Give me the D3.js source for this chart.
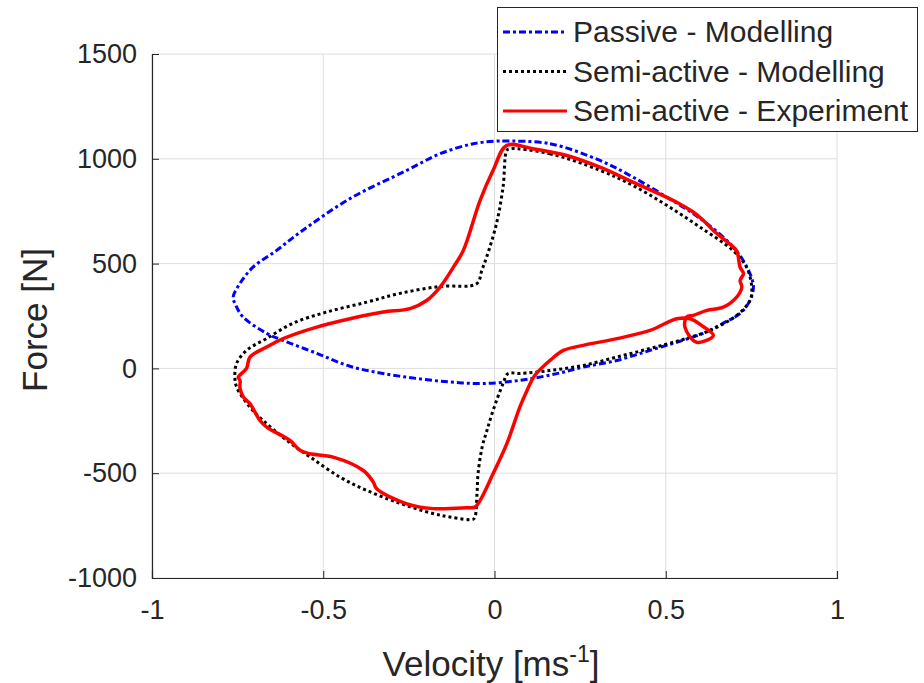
<!DOCTYPE html>
<html>
<head>
<meta charset="utf-8">
<script src="https://cdn.jsdelivr.net/npm/d3@7"></script>
<style>
  body { margin: 0; background: #fff; }
  text { font-family: "Liberation Sans", Arial, sans-serif; fill: #262626; }
</style>
</head>
<body>
<div id="chart-area"></div>
<script>
// ticks
const xTicks = [-1, -0.5, 0, 0.5, 1];
const yTicks = [-1000, -500, 0, 500, 1000, 1500];

const seriesNames = ['Passive - Modelling', 'Semi-active - Modelling', 'Semi-active - Experiment'];

// Passive - Modelling (velocity m/s, force N), closed loop
const passiveV = [0.031, 0.162, 0.308, 0.404, 0.503, 0.600, 0.697, 0.737, 0.755, 0.755, 0.746, 0.717, 0.667, 0.609,
  0.550, 0.454, 0.357, 0.258, 0.182, 0.074, -0.034, -0.130, -0.227, -0.326, -0.422, -0.519, -0.618, -0.665,
  -0.734, -0.755, -0.763, -0.743, -0.705, -0.636, -0.568, -0.422, -0.256, -0.159, -0.062, 0.010];
const passiveF = [1085, 1072, 992, 913, 817, 716, 579, 483, 406, 372, 324, 262, 215, 167,
  134, 86, 38, 6, -25, -57, -72, -65, -48, -24, 10, 72, 134, 167,
  245, 300, 340, 406, 483, 563, 649, 810, 945, 1024, 1072, 1085];

// Semi-active - Modelling
const semiModV = [0.045, 0.162, 0.308, 0.404, 0.503, 0.600, 0.696, 0.736, 0.751, 0.746, 0.707, 0.629, 0.550, 0.454,
  0.357, 0.258, 0.162, 0.074, 0.039, 0.025, -0.004, -0.022, -0.036, -0.048, -0.051, -0.057, -0.063, -0.130,
  -0.180, -0.276, -0.373, -0.451, -0.538, -0.606, -0.676, -0.714, -0.753, -0.758, -0.753, -0.724, -0.665,
  -0.589, -0.490, -0.373, -0.276, -0.159, -0.052, -0.037, -0.023, 0.006, 0.025, 0.036];
const semiModF = [1048, 1024, 945, 873, 778, 674, 563, 483, 388, 324, 253, 181, 138, 95,
  54, 14, -10, -24, -25, -72, -200, -296, -375, -501, -596, -709, -720, -709,
  -692, -644, -582, -519, -423, -344, -248, -185, -89, -42, 24, 86, 143,
  215, 269, 316, 358, 391, 404, 468, 531, 692, 865, 1040];

// Semi-active - Experiment
const semiExpV = [0.036, 0.112, 0.211, 0.308, 0.404, 0.532, 0.580, 0.610, 0.639, 0.697, 0.708, 0.717, 0.727, 0.717,
  0.722, 0.707, 0.668, 0.620, 0.581, 0.561, 0.556, 0.590, 0.639, 0.609, 0.571, 0.532, 0.454, 0.357, 0.259,
  0.201, 0.162, 0.118, 0.095, 0.074, 0.036, -0.004, -0.042, -0.057, -0.081, -0.179, -0.256, -0.344, -0.354,
  -0.383, -0.471, -0.539, -0.568, -0.597, -0.665, -0.685, -0.714, -0.733, -0.743, -0.743, -0.748, -0.724,
  -0.714, -0.665, -0.617, -0.519, -0.422, -0.325, -0.247, -0.198, -0.159, -0.120, -0.091, -0.042, -0.004];
const semiExpF = [1064, 1048, 1016, 960, 889, 793, 746, 706, 658, 579, 558, 483, 452, 420,
  388, 340, 292, 277, 253, 245, 197, 125, 157, 200, 237, 237, 181, 142, 110,
  86, 38, -33, -105, -185, -359, -502, -630, -662, -665, -669, -646, -574, -542,
  -487, -423, -407, -391, -344, -280, -248, -168, -137, -95, -57, -42, 0,
  54, 102, 142, 197, 237, 269, 285, 324, 388, 483, 563, 802, 945];

const series = [
  {name: seriesNames[0], v: passiveV, f: passiveF, color: '#0000ff', dash: '7,3,3,3', w: 3},
  {name: seriesNames[1], v: semiModV, f: semiModF, color: '#000000', dash: '3,3', w: 3},
  {name: seriesNames[2], v: semiExpV, f: semiExpF, color: '#ff0000', dash: null, w: 3.5}
];

// size
const margin = {left: 152, right: 87, top: 54, bottom: 105};
const width = 924 - margin.left - margin.right;
const height = 683 - margin.top - margin.bottom;

const svg = d3.select('#chart-area')
  .append('svg')
  .attr('width', 924)
  .attr('height', 683);

const g = svg.append('g')
  .attr('transform', `translate(${margin.left}, ${margin.top})`);

const x = d3.scaleLinear().domain([-1, 1]).range([0, width]);
const y = d3.scaleLinear().domain([-1000, 1500]).range([height, 0]);

// grid
g.append('g')
  .selectAll('line.vg')
  .data(xTicks)
  .enter().append('line')
  .attr('x1', d => x(d)).attr('x2', d => x(d))
  .attr('y1', 0).attr('y2', height)
  .attr('stroke', '#dedede').attr('stroke-width', 1);

g.append('g')
  .selectAll('line.hg')
  .data(yTicks)
  .enter().append('line')
  .attr('x1', 0).attr('x2', width)
  .attr('y1', d => y(d)).attr('y2', d => y(d))
  .attr('stroke', '#dedede').attr('stroke-width', 1);

// curves
const line = d3.line()
  .x(d => x(d[0]))
  .y(d => y(d[1]))
  .curve(d3.curveCatmullRomClosed.alpha(0.5));

series.forEach(s => {
  const pts = s.v.map((v, i) => [v, s.f[i]]);
  g.append('path')
    .datum(pts)
    .attr('d', line)
    .attr('fill', 'none')
    .attr('stroke', s.color)
    .attr('stroke-width', s.w)
    .attr('stroke-dasharray', s.dash);
});

// axes (ticks inward, like matlab)
const xAxisCall = d3.axisBottom(x)
  .tickValues(xTicks)
  .tickSize(-7)
  .tickPadding(22)
  .tickFormat(d => String(d));
const yAxisCall = d3.axisLeft(y)
  .tickValues(yTicks)
  .tickSize(-7)
  .tickPadding(15)
  .tickFormat(d => String(d));

const xa = g.append('g')
  .attr('transform', `translate(0, ${height})`)
  .call(xAxisCall);
const ya = g.append('g').call(yAxisCall);

[xa, ya].forEach(a => {
  a.select('.domain').attr('stroke', '#262626').attr('stroke-width', 1.2);
  a.selectAll('.tick line').attr('stroke', '#262626');
  a.selectAll('.tick text')
    .attr('fill', '#262626')
    .attr('font-size', '27px')
    .attr('font-family', '"Liberation Sans", Arial, sans-serif');
});

// X Label
const xl = svg.append('text')
  .attr('x', 491)
  .attr('y', 676)
  .attr('font-size', '35px')
  .attr('text-anchor', 'middle');
xl.append('tspan').text('Velocity [ms');
xl.append('tspan').attr('dy', -14).attr('font-size', '23px').text('-1');
xl.append('tspan').attr('dy', 14).text(']');

// Y Label
svg.append('text')
  .attr('transform', 'translate(47, 320) rotate(-90)')
  .attr('font-size', '35px')
  .attr('text-anchor', 'middle')
  .text('Force [N]');

// legend
const leg = svg.append('g');
leg.append('rect')
  .attr('x', 497.5).attr('y', 7.5)
  .attr('width', 420).attr('height', 124)
  .attr('fill', '#fff')
  .attr('stroke', '#262626')
  .attr('stroke-width', 1);

series.forEach((s, i) => {
  const cy = 32 + i * 39.5;
  leg.append('line')
    .attr('x1', 503).attr('x2', 567)
    .attr('y1', cy).attr('y2', cy)
    .attr('stroke', s.color)
    .attr('stroke-width', 3)
    .attr('stroke-dasharray', s.dash);
  leg.append('text')
    .attr('x', 573)
    .attr('y', cy + 10)
    .attr('font-size', '30px')
    .attr('fill', '#000')
    .text(s.name);
});
</script>
</body>
</html>
